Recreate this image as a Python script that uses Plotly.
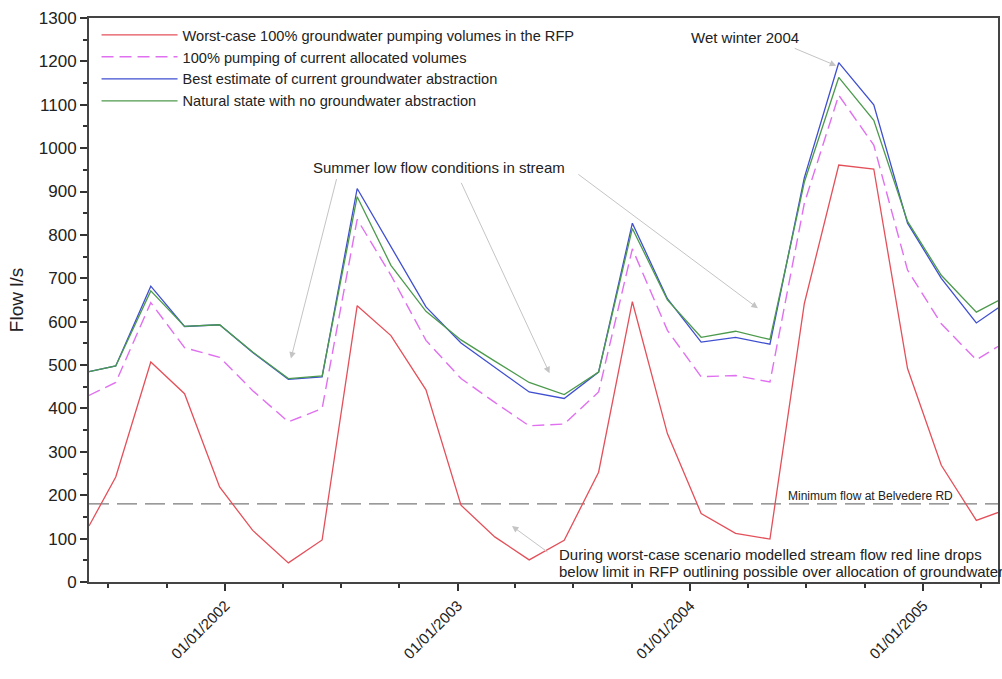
import plotly.graph_objects as go

dates = [
    "2001-06-01", "2001-07-13", "2001-09-06", "2001-10-29", "2001-12-23",
    "2002-02-13", "2002-04-10", "2002-06-02", "2002-07-27", "2002-09-18",
    "2002-11-12", "2003-01-06", "2003-02-28", "2003-04-23", "2003-06-17",
    "2003-08-10", "2003-10-02", "2003-11-26", "2004-01-18", "2004-03-12",
    "2004-05-05", "2004-06-28", "2004-08-21", "2004-10-15", "2004-12-07",
    "2005-01-29", "2005-03-25", "2005-05-18",
]
worst_case = [129, 242, 507, 434, 219, 119, 44, 97, 637, 568, 443, 177, 104, 51, 96,
              253, 646, 342, 158, 112, 99, 642, 961, 952, 492, 269, 142, 171]
allocated = [430, 460, 644, 540, 518, 441, 369, 400, 836, 707, 557, 469, 414, 360, 364,
             438, 768, 580, 473, 476, 461, 873, 1122, 1007, 719, 595, 512, 561]
best_estimate = [485, 498, 682, 589, 593, 529, 467, 473, 907, 772, 634, 551, 494, 438, 423,
                 484, 827, 653, 553, 564, 548, 932, 1197, 1100, 827, 700, 597, 652]
natural = [485, 498, 671, 589, 593, 530, 469, 475, 888, 730, 624, 558, 509, 460, 432,
           484, 815, 650, 564, 578, 559, 922, 1163, 1064, 831, 707, 622, 664]

names = [
    "Worst-case 100% groundwater pumping volumes in the RFP",
    "100% pumping of current allocated volumes",
    "Best estimate of current groundwater abstraction",
    "Natural state with no groundwater abstraction",
]
MIN_FLOW = 180
x_range = ["2001-06-01", "2005-04-28"]

fig = go.Figure()
fig.add_hline(y=MIN_FLOW, line=dict(color="#7a7a7a", width=1.2, dash="20px,8px"), layer="below")

fig.add_trace(go.Scatter(x=dates, y=worst_case, name=names[0], mode="lines",
                         line=dict(color="#e4505a", width=1.3)))
fig.add_trace(go.Scatter(x=dates, y=allocated, name=names[1], mode="lines",
                         line=dict(color="#e070f0", width=1.4, dash="12px,6px")))
fig.add_trace(go.Scatter(x=dates, y=best_estimate, name=names[2], mode="lines",
                         line=dict(color="#3f4fd0", width=1.3)))
fig.add_trace(go.Scatter(x=dates, y=natural, name=names[3], mode="lines",
                         line=dict(color="#4c9a4c", width=1.3)))

font_family = "Liberation Sans, Arial, sans-serif"
fig.update_layout(
    width=1002, height=679,
    margin=dict(l=89, r=2, t=18, b=97),
    paper_bgcolor="white", plot_bgcolor="white",
    font=dict(family=font_family, color="#222222"),
    showlegend=True,
    legend=dict(x=0.0083, y=0.9985, xanchor="left", yanchor="top",
                font=dict(size=14.6, family=font_family, color="#222222"),
                bgcolor="rgba(0,0,0,0)", itemwidth=76, tracegroupgap=0),
    xaxis=dict(type="date", range=x_range, dtick="M12", tick0="2002-01-01",
               tickformat="%d/%m/%Y", tickangle=-45, ticks="outside", ticklen=7,
               tickwidth=1.5, tickcolor="#333", showgrid=False, zeroline=False,
               showline=True, linecolor="#444", linewidth=2, mirror=True,
               tickfont=dict(size=15, family=font_family, color="#222"),
               minor=dict(dtick="M3", tick0="2002-01-01", ticks="outside", ticklen=4,
                          tickwidth=1.5, tickcolor="#333", showgrid=False)),
    yaxis=dict(range=[0, 1300], dtick=100, ticks="outside", ticklen=7, tickwidth=1.5,
               tickcolor="#333", showgrid=False, zeroline=False, showline=True,
               linecolor="#444", linewidth=2, mirror=True,
               tickfont=dict(size=17, family=font_family, color="#222"),
               title=dict(text="Flow l/s", font=dict(size=19, family=font_family, color="#222"),
                          standoff=10),
               minor=dict(dtick=50, ticks="outside", ticklen=4, tickwidth=1.5,
                          tickcolor="#333", showgrid=False)),
)

arrow_col = "#c4c4c4"
ann_font = dict(size=15, family=font_family, color="#222")

# text labels
fig.add_annotation(xref="paper", yref="paper", x=0.7212, y=0.9663, text="Wet winter 2004",
                   showarrow=False, font=ann_font, xanchor="center", yanchor="middle")
fig.add_annotation(xref="paper", yref="paper", x=0.3853, y=0.7358,
                   text="Summer low flow conditions in stream",
                   showarrow=False, font=ann_font, xanchor="center", yanchor="middle")
fig.add_annotation(xref="paper", yref="paper", x=0.5148, y=0.0493,
                   text="During worst-case scenario modelled stream flow red line drops",
                   showarrow=False, font=ann_font, xanchor="left", yanchor="middle")
fig.add_annotation(xref="paper", yref="paper", x=0.5148, y=0.0183,
                   text="below limit in RFP outlining possible over allocation of groundwater",
                   showarrow=False, font=ann_font, xanchor="left", yanchor="middle")
fig.add_annotation(xref="paper", yref="paper", x=0.860, y=0.1525,
                   text="Minimum flow at Belvedere RD",
                   showarrow=False, font=dict(size=12, family=font_family, color="#222"),
                   xanchor="center", yanchor="middle")

# arrows
arrows = [
    ("2002-04-14", 515, 46, -181),
    ("2003-05-25", 481, -89, -192),
    ("2004-04-16", 631, -181, -135),
    ("2004-08-17", 1190, -43, -18),
    ("2003-03-27", 129, 37, 27),
]
for ax_date, ay_val, dx, dy in arrows:
    fig.add_annotation(xref="x", yref="y", x=ax_date, y=ay_val, ax=dx, ay=dy,
                       text="", showarrow=True, arrowhead=2, arrowsize=1.3,
                       arrowwidth=1, arrowcolor=arrow_col)

fig.write_html(
    "out.html",
    config={"responsive": False, "displayModeBar": False},
    post_script="document.body.style.margin='0';document.body.style.overflow='hidden';",
)
